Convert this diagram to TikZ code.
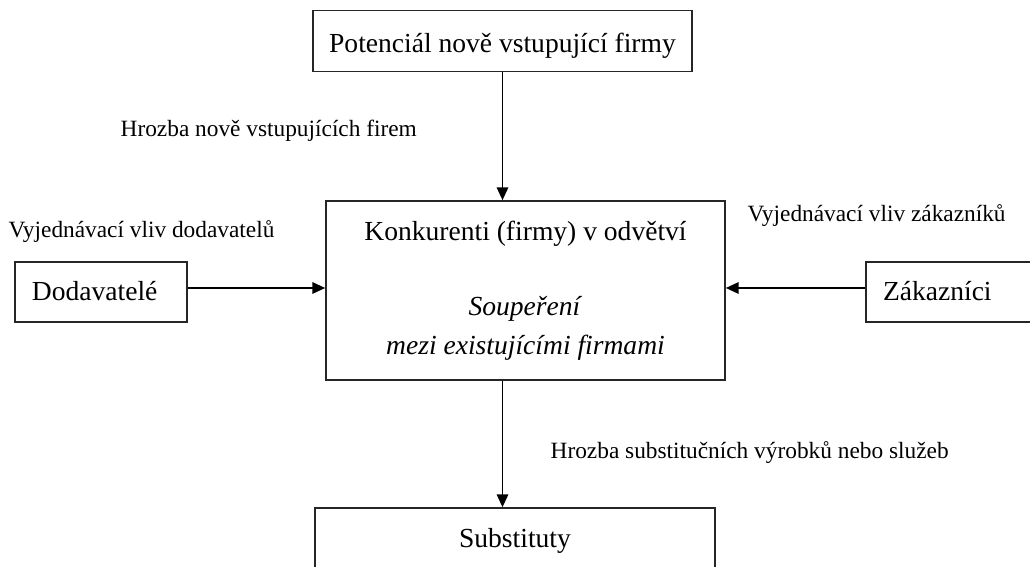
\documentclass[tikz,border=0pt]{standalone}
\usepackage{fontspec}
\setmainfont{Liberation Serif}
\usetikzlibrary{arrows.meta,positioning}

\begin{document}
\begin{tikzpicture}[
    x=0.25mm, y=-0.25mm,
    >={Triangle[length=3.2mm,width=2.9mm]},
    line width=1pt,
    box/.style={draw=black!85, line width=1.2pt, inner sep=0pt, align=center, text height=6.25mm, text depth=2mm, font=\fontsize{19.6}{22}\selectfont},
    sidebox/.style={box, inner xsep=4.25mm, align=left},
    bigbox/.style={draw=black!85, line width=1.2pt, inner sep=0pt, align=center, font=\fontsize{19.6}{27.7}\selectfont},
    lbl/.style={anchor=base west, inner sep=0pt, font=\fontsize{16.6}{20}\selectfont}
]
\useasboundingbox (0,0) rectangle (1030,567);
\clip (0,0) rectangle (1030,567);

% boxes
\node[box, minimum width=94.75mm, minimum height=15.25mm, text depth=0.25mm] (potencial) at (502.5,41) {Potenciál nově vstupující firmy};
\node[bigbox, minimum width=99.75mm, minimum height=44.75mm] (konkurenti) at (525.5,290.5)
    {Konkurenti (firmy) v odvětví\\[25.6pt]\textit{Soupeření}\\\textit{mezi existujícími firmami}};
\node[sidebox, text width=34.5mm, minimum height=15mm] (dodavatele) at (101,292) {Dodavatelé};
\node[sidebox, text width=41.5mm, minimum height=15mm] (zakaznici) at (966,292) {Zákazníci};
\node[box, minimum width=100mm, minimum height=15.5mm] (substituty) at (515,539) {Substituty};

% labels
\node[lbl] (hrozbaNove) at (120,137) {Hrozba nově vstupujících firem};
\node[lbl] (vlivDod) at (8,238) {Vyjednávací vliv dodavatelů};
\node[lbl] (vlivZak) at (747,222) {Vyjednávací vliv zákazníků};
\node[lbl] (hrozbaSubst) at (550,458) {Hrozba substitučních výrobků nebo služeb};

% arrows
\draw[->] (potencial.south) -- (potencial.south |- konkurenti.north);
\draw[->] (konkurenti.south -| potencial.south) -- (substituty.north -| potencial.south);
\draw[->] ([yshift=1mm]dodavatele.east) -- ([yshift=1mm]dodavatele.east -| konkurenti.west);
\draw[->] ([yshift=1mm]zakaznici.west) -- ([yshift=1mm]zakaznici.west -| konkurenti.east);
\end{tikzpicture}
\end{document}
